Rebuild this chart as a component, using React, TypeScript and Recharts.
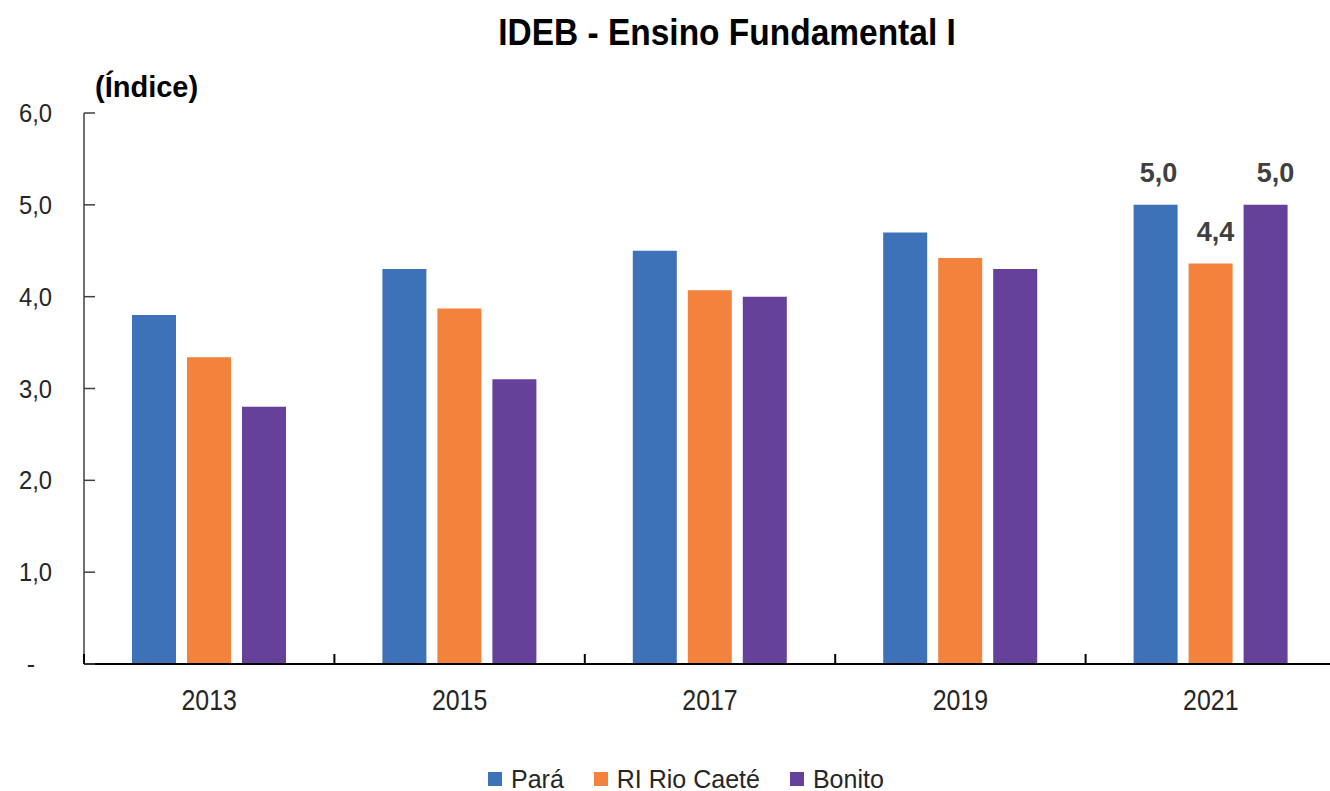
import { BarChart, Bar, XAxis, YAxis, Legend, LabelList } from "recharts";

const years = ["2013", "2015", "2017", "2019", "2021"];
const para = [3.8, 4.3, 4.5, 4.7, 5.0];
const rioCaete = [3.34, 3.87, 4.07, 4.42, 4.36];
const bonito = [2.8, 3.1, 4.0, 4.3, 5.0];
const yTicks = [0, 1, 2, 3, 4, 5, 6];

const series = [
  { key: "para", name: "Pará", color: "#3D72B9", dx: 3 },
  { key: "rioCaete", name: "RI Rio Caeté", color: "#F2823C", dx: 5 },
  { key: "bonito", name: "Bonito", color: "#65419A", dx: 10 },
];

const data = years.map((year, i) => ({
  year,
  para: para[i],
  rioCaete: rioCaete[i],
  bonito: bonito[i],
}));

const FONT = "'Liberation Sans', Arial, sans-serif";
const CHART_W = 1336;
const Y_AXIS_W = 84;
const CAT_W = (CHART_W - Y_AXIS_W) / years.length;

const fmt = (v: number) => v.toFixed(1).replace(".", ",");

const XTick = (props: any) => {
  const { x, y, payload, index } = props;
  const half = CAT_W / 2;
  return (
    <g>
      <line x1={x - half} x2={x - half} y1={y} y2={y - 10} stroke="#000" strokeWidth={2} />
      {index === years.length - 1 && (
        <line x1={x + half} x2={x + half} y1={y} y2={y - 10} stroke="#000" strokeWidth={2} />
      )}
      <g transform={`translate(${x},${y + 46}) scale(0.83,1)`}>
        <text x={0} y={0} textAnchor="middle" fontFamily={FONT} fontSize={30} fill="#262626">
          {payload.value}
        </text>
      </g>
    </g>
  );
};

const YTick = (props: any) => {
  const { x, y, payload } = props;
  return (
    <g>
      <line x1={x} x2={x + 11} y1={y} y2={y} stroke="#404040" strokeWidth={1.5} />
      {payload.value === 0 ? (
        <text x={31} y={y + 9} textAnchor="middle" fontFamily={FONT} fontSize={25} fill="#262626">
          -
        </text>
      ) : (
        <g transform={`translate(${x - 32},${y + 9}) scale(0.95,1.05)`}>
          <text x={0} y={0} textAnchor="end" fontFamily={FONT} fontSize={25} fill="#262626">
            {fmt(payload.value)}
          </text>
        </g>
      )}
    </g>
  );
};

const lastLabel = (dx: number) => (props: any) => {
  const { x, y, width, value, index } = props;
  if (index !== years.length - 1) return null;
  return (
    <text
      x={x + width / 2 + dx}
      y={y - 23}
      textAnchor="middle"
      fontFamily={FONT}
      fontSize={27}
      fontWeight="bold"
      fill="#404040"
    >
      {fmt(value)}
    </text>
  );
};

const LegendContent = () => (
  <div style={{ display: "flex", alignItems: "center", height: 30, fontFamily: FONT, fontSize: 25, color: "#262626" }}>
    {series.map((s) => (
      <div key={s.key} style={{ display: "flex", alignItems: "center", marginRight: 30 }}>
        <span style={{ width: 14, height: 14, background: s.color, marginRight: 9, display: "inline-block" }} />
        <span>{s.name}</span>
      </div>
    ))}
  </div>
);

export default function App() {
  return (
    <div style={{ position: "absolute", left: 0, top: 0, width: 1330, height: 791, overflow: "hidden", background: "#fff" }}>
      <div
        style={{
          position: "absolute",
          left: 727,
          top: 12,
          transform: "translateX(-50%) scaleX(0.93)",
          fontFamily: FONT,
          fontSize: 36,
          fontWeight: "bold",
          color: "#000",
          whiteSpace: "nowrap",
          lineHeight: "42px",
        }}
      >
        IDEB - Ensino Fundamental I
      </div>
      <div
        style={{
          position: "absolute",
          left: 95,
          top: 70,
          fontFamily: FONT,
          fontSize: 29,
          fontWeight: "bold",
          color: "#000",
          lineHeight: "34px",
        }}
      >
        (Índice)
      </div>
      <BarChart
        width={CHART_W}
        height={791}
        data={data}
        margin={{ top: 113, right: 0, left: 0, bottom: 47 }}
        barCategoryGap={48}
        barGap={11}
      >
        <YAxis
          width={Y_AXIS_W}
          domain={[0, 6]}
          ticks={yTicks}
          interval={0}
          tickLine={false}
          tickSize={0}
          tickMargin={0}
          axisLine={{ stroke: "#404040", strokeWidth: 1.5 }}
          tick={<YTick />}
        />
        <XAxis
          dataKey="year"
          height={50}
          tickLine={false}
          tickSize={0}
          tickMargin={0}
          interval={0}
          axisLine={{ stroke: "#000", strokeWidth: 2 }}
          tick={<XTick />}
        />
        <Legend
          verticalAlign="bottom"
          content={<LegendContent />}
          wrapperStyle={{ height: 30, left: 488, width: 460, bottom: -3 }}
        />
        {series.map((s) => (
          <Bar key={s.key} dataKey={s.key} name={s.name} fill={s.color} isAnimationActive={false}>
            <LabelList dataKey={s.key} content={lastLabel(s.dx)} />
          </Bar>
        ))}
      </BarChart>
    </div>
  );
}
